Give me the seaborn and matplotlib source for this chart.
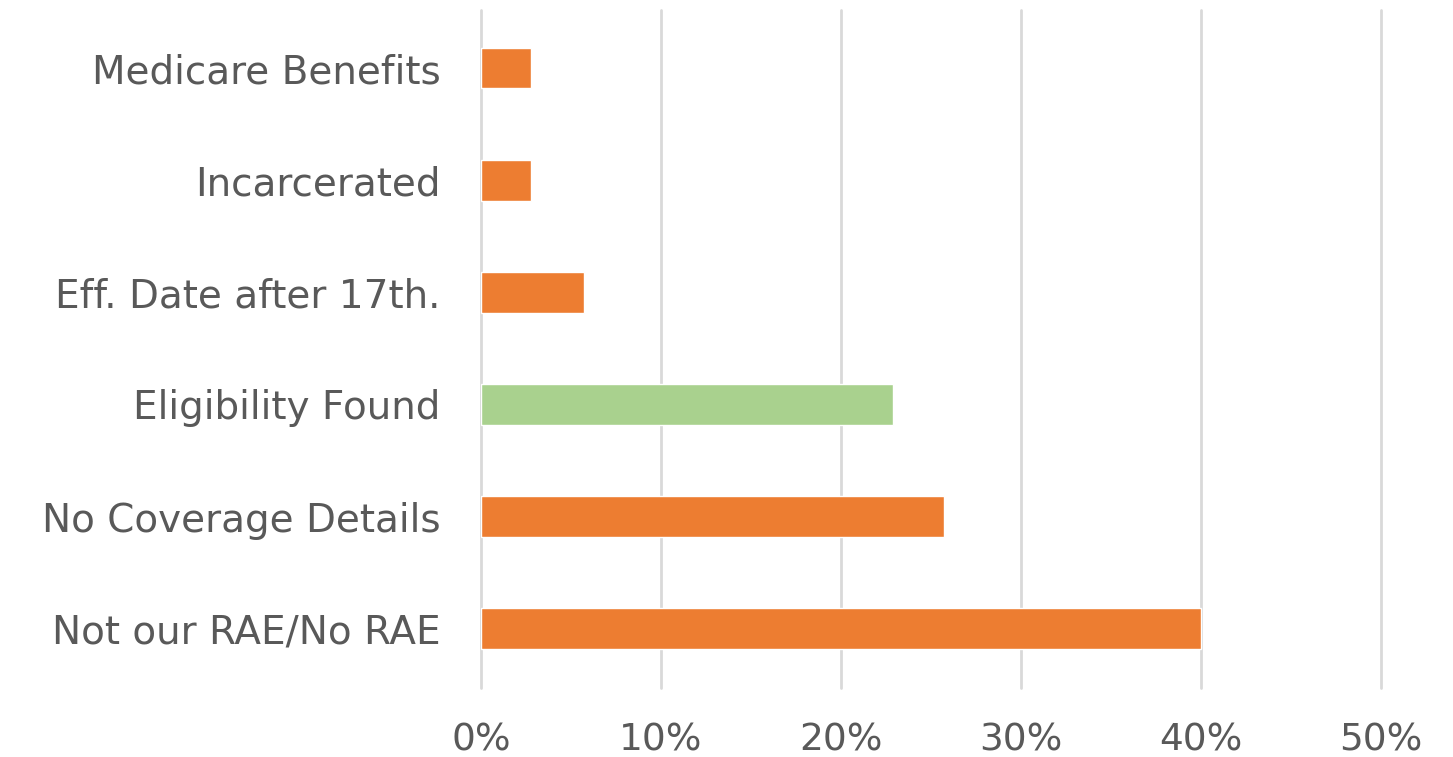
import matplotlib
matplotlib.use("Agg")
import matplotlib.pyplot as plt
import seaborn as sns
import pandas as pd
from matplotlib.ticker import FuncFormatter

categories = ["Medicare Benefits", "Incarcerated", "Eff. Date after 17th.",
              "Eligibility Found", "No Coverage Details", "Not our RAE/No RAE"]
values = [2.8, 2.8, 5.7, 22.9, 25.7, 40.0]
bar_colors = ["#ED7D31", "#ED7D31", "#ED7D31", "#A9D18E", "#ED7D31", "#ED7D31"]
x_ticks = [0, 10, 20, 30, 40, 50]

sns.set_theme(style="white")
plt.rcParams['font.family'] = ['DejaVu Sans']

df = pd.DataFrame({"category": categories, "value": values})

fig = plt.figure(figsize=(14.53, 7.57), dpi=100)
ax = fig.add_axes([481/1453, 1 - 688/757, 900/1453, 678/757])

sns.barplot(data=df, x="value", y="category", hue="category",
            palette=bar_colors, legend=False, width=0.36, ax=ax,
            saturation=1, orient="h", zorder=3)

ax.set_xlim(0, 50)
ax.set_ylim(5.53, -0.52)
ax.set_xticks(x_ticks)
ax.xaxis.set_major_formatter(FuncFormatter(lambda v, p: f"{v:.0f}%"))
ax.grid(axis="x", color="#D9D9D9", linewidth=2, zorder=0)
ax.grid(axis="y", visible=False)
for line in ax.get_xgridlines():
    line.set_clip_on(False)
for s in ax.spines.values():
    s.set_visible(False)
ax.set_xlabel("")
ax.set_ylabel("")
ax.tick_params(axis="y", length=0, pad=29, labelsize=28, labelcolor="#595959")
ax.tick_params(axis="x", length=0, pad=25, labelsize=27, labelcolor="#595959")

fig.savefig("out.png", dpi=100)
